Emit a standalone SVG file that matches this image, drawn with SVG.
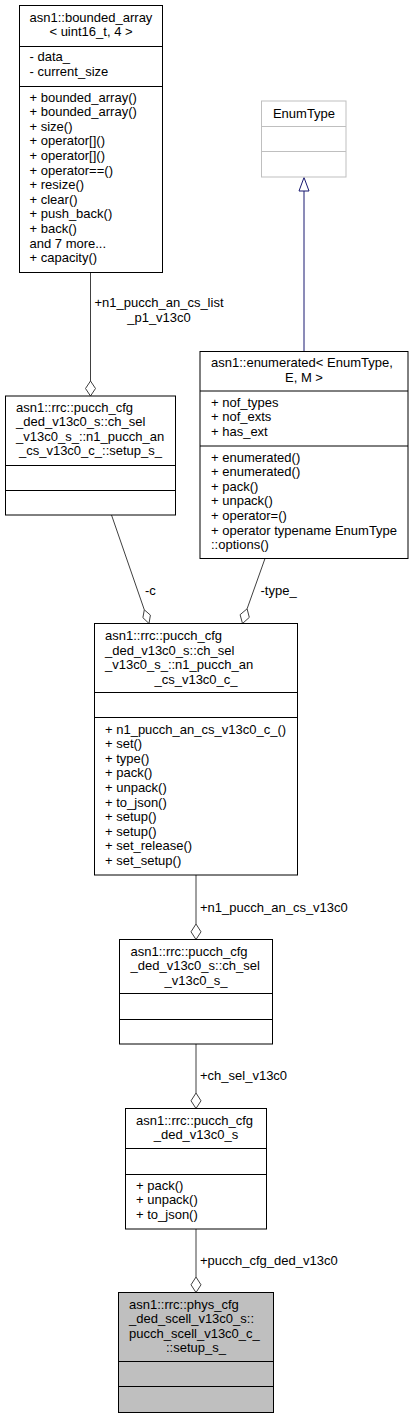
<svg xmlns="http://www.w3.org/2000/svg" width="413" height="1419" viewBox="0 0 413 1419">
<style>
text{font-family:"Liberation Sans",Arial,sans-serif;font-size:13px;fill:#000}
.m{text-anchor:middle}
.box{fill:#fff;stroke:#000;stroke-width:1}
.sep{stroke:#000;stroke-width:1}
.gbox{fill:#fff;stroke:#bfbfbf;stroke-width:1}
.gsep{stroke:#bfbfbf;stroke-width:1}
.edge{stroke:#404040;stroke-width:1;fill:none}
.dia{fill:#fff;stroke:#404040;stroke-width:1}
.inh{stroke:#191970;stroke-width:1;fill:none}
.tri{fill:#fff;stroke:#191970;stroke-width:1}
</style>
<rect width="413" height="1419" fill="#fff"/>
<g id="connectors">
  <line class="edge" x1="90.5" y1="272.5" x2="90.5" y2="381"/>
  <polygon class="dia" points="90.5,396 85.5,388.5 90.5,381 95.5,388.5"/>
  <text class="m" x="159" y="307">+n1_pucch_an_cs_list</text>
  <text class="m" x="159" y="322">_p1_v13c0</text>
  <line class="inh" x1="304" y1="191" x2="304" y2="351"/>
  <polygon class="tri" points="304,177.5 299,191 309,191"/>
  <line class="edge" x1="111.5" y1="515" x2="144.3" y2="609.8"/>
  <polygon class="dia" points="149,623.5 150.4,615.1 144.3,609.8 142.9,617.7"/>
  <text x="145" y="595">-c</text>
  <line class="edge" x1="265" y1="558.5" x2="247.1" y2="608.8"/>
  <polygon class="dia" points="242.5,623.5 249.3,617.4 247.1,608.8 240.1,614.7"/>
  <text x="260.5" y="595">-type_</text>
  <line class="edge" x1="196" y1="875" x2="196" y2="924"/>
  <polygon class="dia" points="196,939.5 191,931.8 196,924 201,931.8"/>
  <text x="200" y="911.5">+n1_pucch_an_cs_v13c0</text>
  <line class="edge" x1="196" y1="1044" x2="196" y2="1093"/>
  <polygon class="dia" points="196,1108.5 191,1100.8 196,1093 201,1100.8"/>
  <text x="200" y="1079.5">+ch_sel_v13c0</text>
  <line class="edge" x1="196" y1="1229" x2="196" y2="1277"/>
  <polygon class="dia" points="196,1292.5 191,1284.8 196,1277 201,1284.8"/>
  <text x="200" y="1264.5">+pucch_cfg_ded_v13c0</text>
</g>
<g id="bounded_array">
  <rect class="box" x="19.5" y="5.5" width="143" height="267"/>
  <line class="sep" x1="19.5" y1="46.5" x2="162.5" y2="46.5"/>
  <line class="sep" x1="19.5" y1="86.5" x2="162.5" y2="86.5"/>
  <text x="29.5" y="21.5">asn1::bounded_array</text>
  <text class="m" x="91" y="36">&lt; uint16_t, 4 &gt;</text>
  <text x="29.5" y="61">- data_</text>
  <text x="29.5" y="75.6">- current_size</text>
  <text x="29.5" y="101.5">+ bounded_array()</text>
  <text x="29.5" y="116.1">+ bounded_array()</text>
  <text x="29.5" y="130.7">+ size()</text>
  <text x="29.5" y="145.3">+ operator[]()</text>
  <text x="29.5" y="159.9">+ operator[]()</text>
  <text x="29.5" y="174.5">+ operator==()</text>
  <text x="29.5" y="189.1">+ resize()</text>
  <text x="29.5" y="203.7">+ clear()</text>
  <text x="29.5" y="218.3">+ push_back()</text>
  <text x="29.5" y="232.9">+ back()</text>
  <text x="29.5" y="247.5">and 7 more...</text>
  <text x="29.5" y="262.1">+ capacity()</text>
</g>
<g id="EnumType">
  <rect class="gbox" x="261.5" y="101" width="84.5" height="76"/>
  <line class="gsep" x1="261.5" y1="126.5" x2="346" y2="126.5"/>
  <line class="gsep" x1="261.5" y1="151.5" x2="346" y2="151.5"/>
  <text class="m" x="304" y="118">EnumType</text>
</g>
<g id="enumerated">
  <rect class="box" x="200" y="351.5" width="208" height="207"/>
  <line class="sep" x1="200" y1="391" x2="408" y2="391"/>
  <line class="sep" x1="200" y1="446" x2="408" y2="446"/>
  <text x="211" y="367">asn1::enumerated&lt; EnumType,</text>
  <text class="m" x="304" y="381.5">E, M &gt;</text>
  <text x="211" y="406.5">+ nof_types</text>
  <text x="211" y="421.1">+ nof_exts</text>
  <text x="211" y="435.7">+ has_ext</text>
  <text x="211" y="461.5">+ enumerated()</text>
  <text x="211" y="476.1">+ enumerated()</text>
  <text x="211" y="490.7">+ pack()</text>
  <text x="211" y="505.3">+ unpack()</text>
  <text x="211" y="519.9">+ operator=()</text>
  <text x="211" y="534.5">+ operator typename EnumType</text>
  <text x="211" y="549.1">::options()</text>
</g>
<g id="setup_s">
  <rect class="box" x="5.5" y="396" width="170" height="119"/>
  <line class="sep" x1="5.5" y1="465.5" x2="175.5" y2="465.5"/>
  <line class="sep" x1="5.5" y1="490.5" x2="175.5" y2="490.5"/>
  <text x="16" y="411.5">asn1::rrc::pucch_cfg</text>
  <text x="16" y="426.1">_ded_v13c0_s::ch_sel</text>
  <text x="16" y="440.7">_v13c0_s_::n1_pucch_an</text>
  <text class="m" x="90.5" y="455.3">_cs_v13c0_c_::setup_s_</text>
</g>
<g id="n1_pucch_an_cs_v13c0_c">
  <rect class="box" x="94.5" y="623.5" width="203" height="251.5"/>
  <line class="sep" x1="94.5" y1="692.5" x2="297.5" y2="692.5"/>
  <line class="sep" x1="94.5" y1="717.5" x2="297.5" y2="717.5"/>
  <text x="105" y="640">asn1::rrc::pucch_cfg</text>
  <text x="105" y="654.6">_ded_v13c0_s::ch_sel</text>
  <text x="105" y="669.2">_v13c0_s_::n1_pucch_an</text>
  <text class="m" x="196" y="683.8">_cs_v13c0_c_</text>
  <text x="105" y="733.5">+ n1_pucch_an_cs_v13c0_c_()</text>
  <text x="105" y="748.1">+ set()</text>
  <text x="105" y="762.7">+ type()</text>
  <text x="105" y="777.3">+ pack()</text>
  <text x="105" y="791.9">+ unpack()</text>
  <text x="105" y="806.5">+ to_json()</text>
  <text x="105" y="821.1">+ setup()</text>
  <text x="105" y="835.7">+ setup()</text>
  <text x="105" y="850.3">+ set_release()</text>
  <text x="105" y="864.9">+ set_setup()</text>
</g>
<g id="ch_sel_v13c0_s">
  <rect class="box" x="119.5" y="939.5" width="153" height="104.5"/>
  <line class="sep" x1="119.5" y1="993.5" x2="272.5" y2="993.5"/>
  <line class="sep" x1="119.5" y1="1019.5" x2="272.5" y2="1019.5"/>
  <text x="130.5" y="955.5">asn1::rrc::pucch_cfg</text>
  <text x="130.5" y="970.1">_ded_v13c0_s::ch_sel</text>
  <text class="m" x="196" y="984.7">_v13c0_s_</text>
</g>
<g id="pucch_cfg_ded_v13c0_s">
  <rect class="box" x="125.5" y="1108.5" width="141" height="120.5"/>
  <line class="sep" x1="125.5" y1="1148.5" x2="266.5" y2="1148.5"/>
  <line class="sep" x1="125.5" y1="1174.5" x2="266.5" y2="1174.5"/>
  <text x="136" y="1124.5">asn1::rrc::pucch_cfg</text>
  <text class="m" x="196" y="1139.1">_ded_v13c0_s</text>
  <text x="136" y="1189.5">+ pack()</text>
  <text x="136" y="1204.1">+ unpack()</text>
  <text x="136" y="1218.7">+ to_json()</text>
</g>
<g id="setup_s_main">
  <rect class="box" x="118.5" y="1292.5" width="155" height="120" fill="#bfbfbf" style="fill:#bfbfbf"/>
  <line class="sep" x1="118.5" y1="1361.5" x2="273.5" y2="1361.5"/>
  <line class="sep" x1="118.5" y1="1386.5" x2="273.5" y2="1386.5"/>
  <text x="129" y="1308.5">asn1::rrc::phys_cfg</text>
  <text x="129" y="1323.1">_ded_scell_v13c0_s::</text>
  <text x="129" y="1337.7">pucch_scell_v13c0_c_</text>
  <text class="m" x="196" y="1352.3">::setup_s_</text>
</g>
</svg>
